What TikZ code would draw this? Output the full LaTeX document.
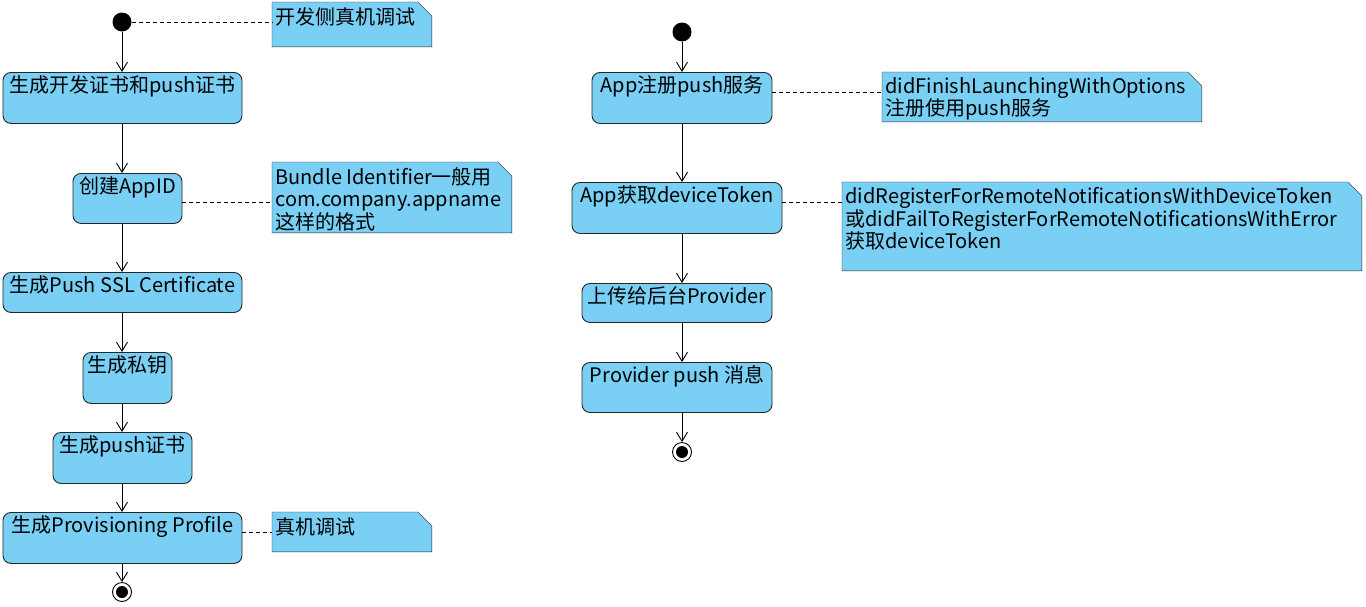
\documentclass[tikz,border=0pt]{standalone}
\usepackage{fontspec}
\setmainfont{Noto Sans CJK SC}
\usepackage{tikz}
\usetikzlibrary{arrows.meta,backgrounds}
\definecolor{actblue}{RGB}{122,207,245}

\begin{document}
\begin{tikzpicture}
[x=1pt,y=-1pt,>={Straight Barb[length=9pt,width=11pt]},line width=0.9pt,
font=\fontsize{20}{22.5}\selectfont,
act/.style={draw=black!85,fill=actblue,rounded corners=8pt,anchor=north,inner xsep=4pt,inner ysep=3pt,text height=17pt,text depth=#1},
act/.default=28pt,
note/.style={anchor=north west,inner sep=0pt},
notetext/.style={anchor=north west,align=left,inner xsep=3pt,inner ysep=5pt},
start/.style={circle,fill=black,inner sep=0pt,minimum size=19pt},
stop/.style={circle,draw=black,inner sep=0pt,minimum size=19pt,path picture={\fill (path picture bounding box.center) circle (6pt);}},
dashline/.style={dash pattern=on 4pt off 3pt,line width=0.8pt},]

\useasboundingbox (0,0) rectangle (1366,606);

% left flow
\node (s1) at (122,22)[start]{};
\node (b1) at (122.5,72)[act,minimum width=239pt]{生成开发证书和push证书};
\node (b2) at (127.5,173)[act=27pt,minimum width=109pt]{创建AppID};
\node (b3) at (122.5,272)[act=17pt,minimum width=239pt]{生成Push SSL Certificate};
\node (b4) at (127.5,352)[act,minimum width=89pt]{生成私钥};
\node (b5) at (122.5,432)[act,minimum width=139pt]{生成push证书};
\node (b6) at (122.5,512)[act,minimum width=239pt]{生成Provisioning Profile};
\node (e1) at (122,592)[stop]{};

\node (n1) at (272,2)[note,minimum width=159pt,minimum height=44pt,label={[notetext]north west:开发侧真机调试}]{};
\node (n2) at (272,162)[note,minimum width=239pt,minimum height=70pt,label={[notetext]north west:Bundle Identifier一般用\\com.company.appname\\这样的格式}]{};
\node (n3) at (272,512)[note,minimum width=159pt,minimum height=39pt,label={[notetext]north west:真机调试}]{};

% right flow
\node (s2) at (682,32)[start]{};
\node (c1) at (682,72)[act,minimum width=180pt]{App注册push服务};
\node (c2) at (677,182)[act,minimum width=210pt]{App获取deviceToken};
\node (c3) at (677,283)[act=16pt,minimum width=190pt]{上传给后台Provider};
\node (c4) at (677,362)[act=27pt,minimum width=190pt]{Provider push 消息};
\node (e2) at (682,452)[stop]{};

\node (m1) at (882,72)[note,minimum width=319pt,minimum height=49pt,label={[notetext]north west:didFinishLaunchingWithOptions\\注册使用push服务}]{};
\node (m2) at (842,182)[note,minimum width=519pt,minimum height=88pt,label={[notetext]north west:didRegisterForRemoteNotificationsWithDeviceToken\\或didFailToRegisterForRemoteNotificationsWithError\\获取deviceToken}]{};

\begin{scope}[on background layer]
\foreach \n in {n1,n2,n3,m1,m2}
  \draw[draw=black!85,fill=actblue] (\n.south west) -- (\n.north west) -- ([xshift=-14pt]\n.north east) -- ([yshift=-14pt]\n.north east) -- (\n.south east) -- cycle;
\end{scope}

\foreach \a/\b in {s1/b1,b1/b2,b2/b3,b3/b4,b4/b5,b5/b6,b6/e1}
  \draw[->] (\a.south -| s1) -- (\b.north -| s1);
\foreach \a/\b in {s2/c1,c1/c2,c2/c3,c3/c4,c4/e2}
  \draw[->] (\a.south -| s2) -- (\b.north -| s2);

\draw[dashline] (s1.east) -- (n1.west |- s1);
\draw[dashline] ([yshift=-4pt]b2.east) -- ([yshift=-4pt]b2.east -| n2.west);
\draw[dashline] ([yshift=5.5pt]b6.east) -- ([yshift=5.5pt]b6.east -| n3.west);
\draw[dashline] ([yshift=5.5pt]c1.east) -- ([yshift=5.5pt]c1.east -| m1.west);
\draw[dashline] ([yshift=5.5pt]c2.east) -- ([yshift=5.5pt]c2.east -| m2.west);

\end{tikzpicture}
\end{document}
